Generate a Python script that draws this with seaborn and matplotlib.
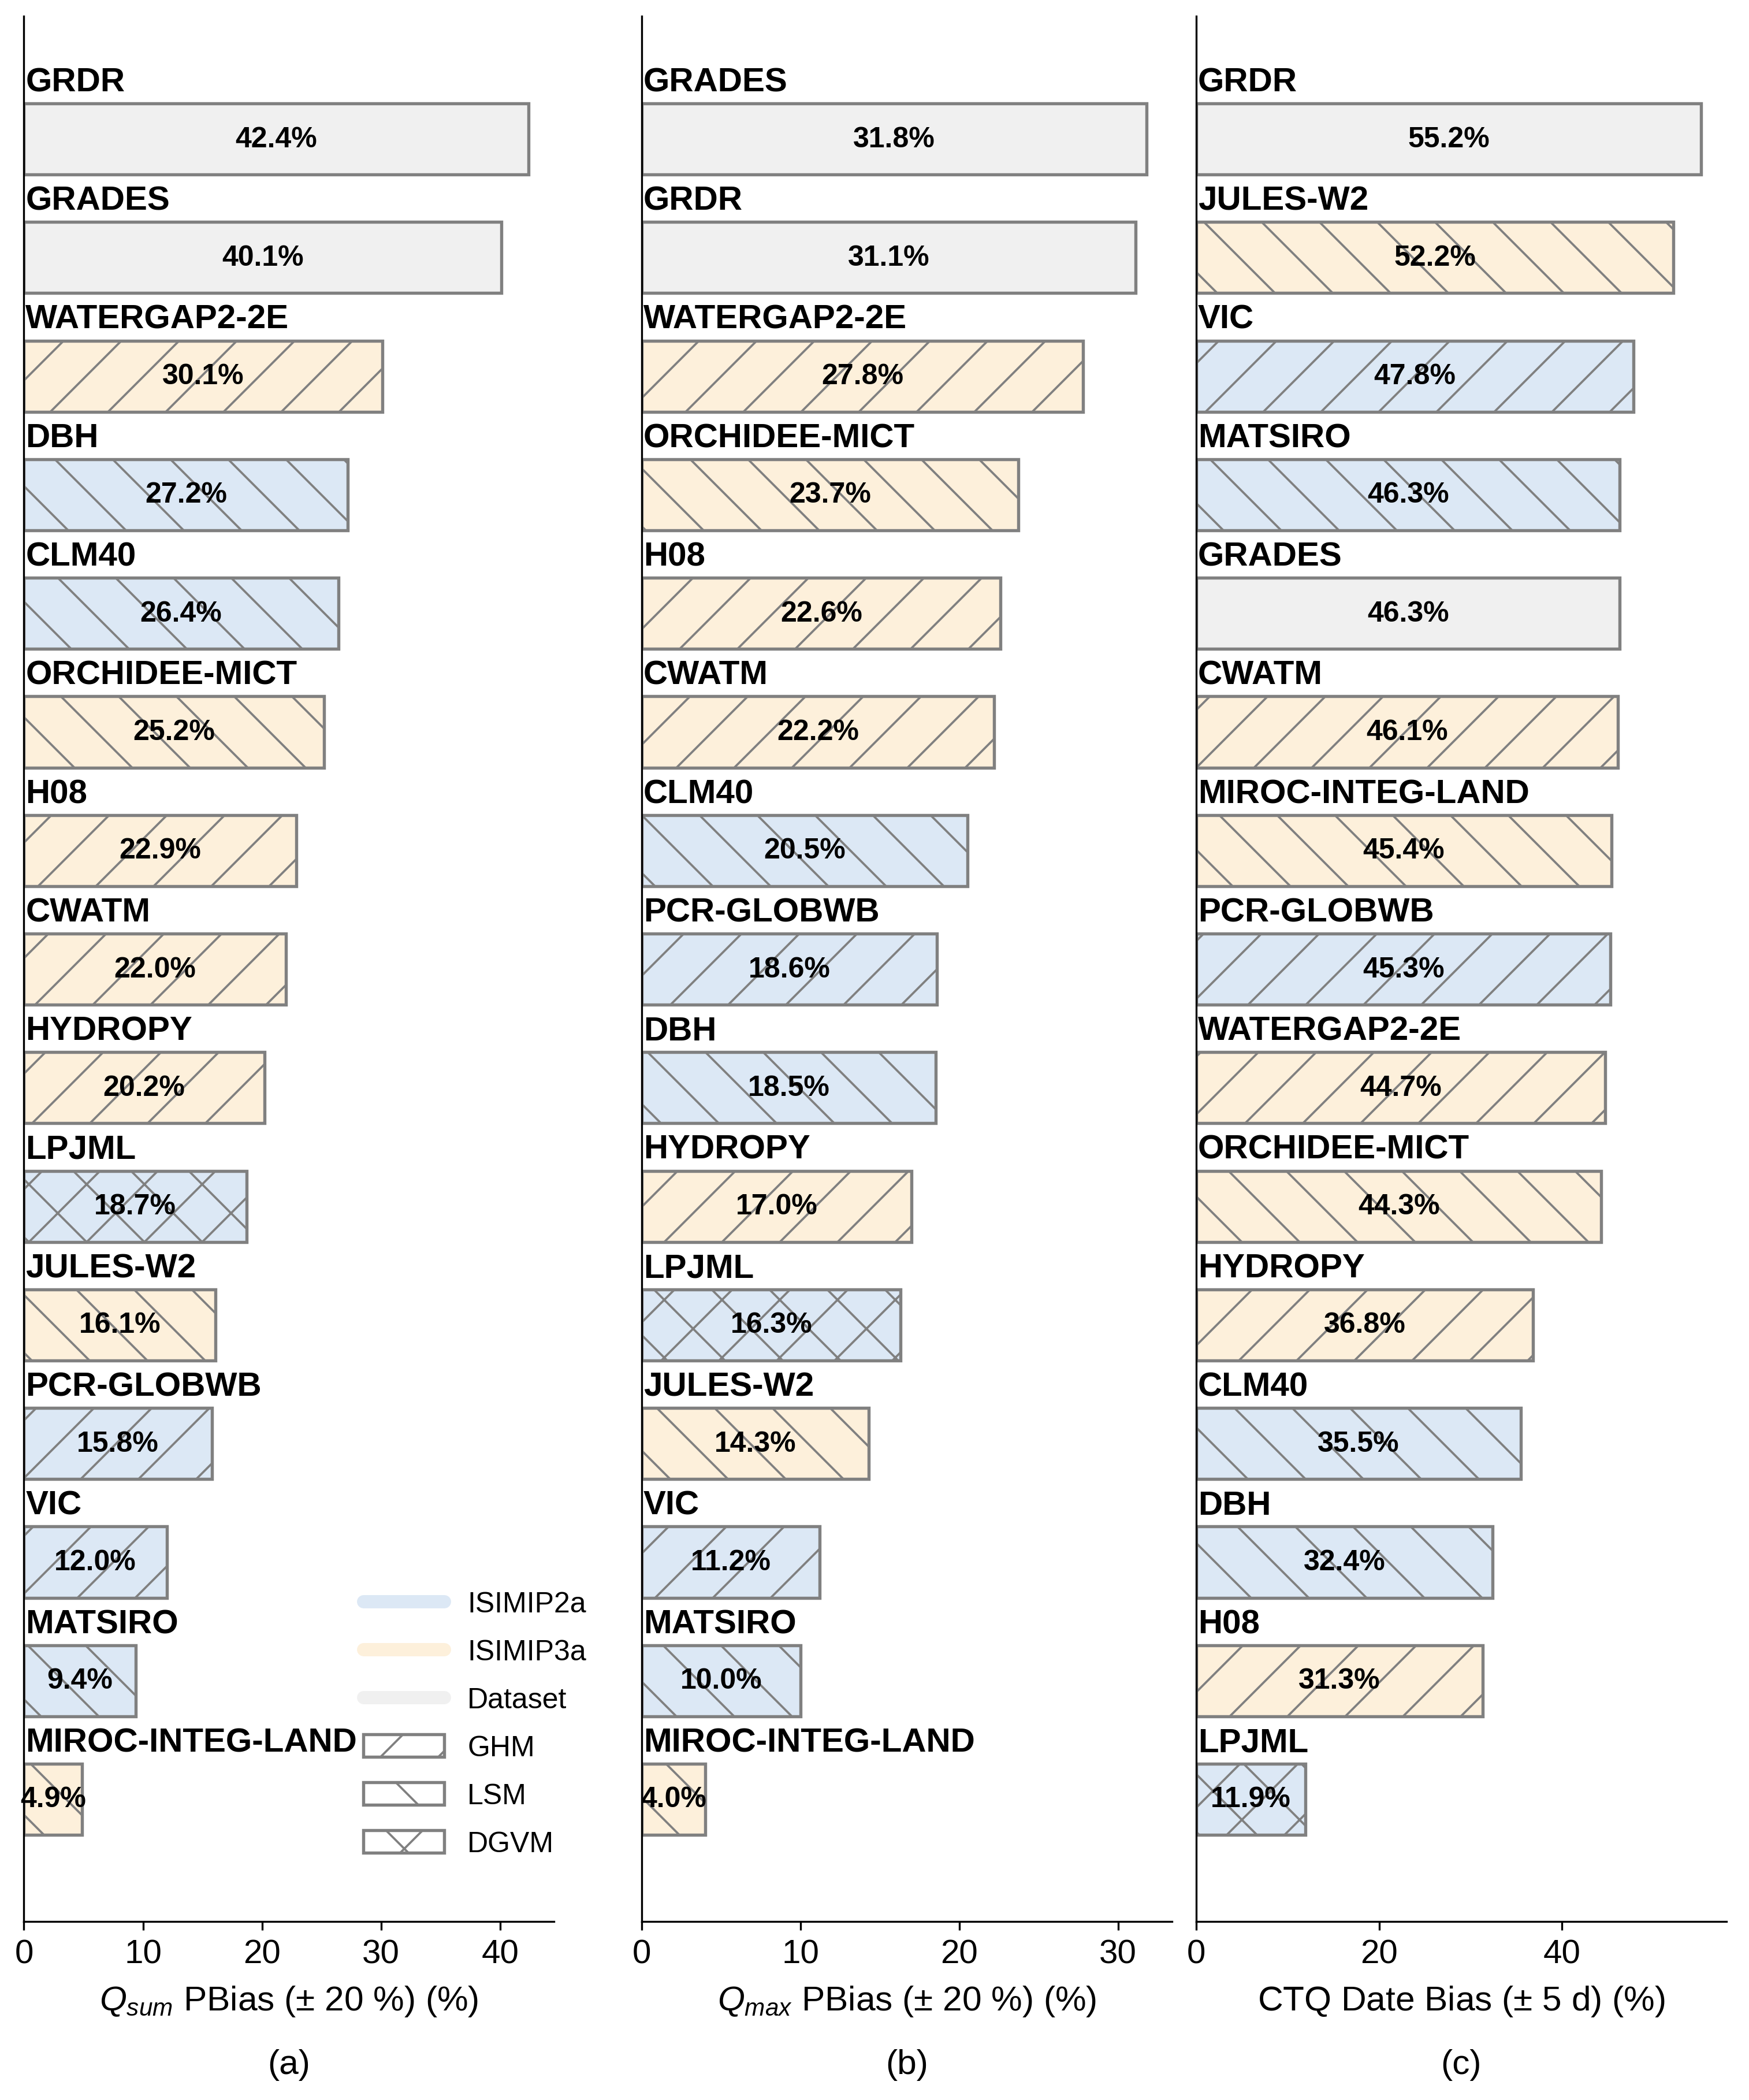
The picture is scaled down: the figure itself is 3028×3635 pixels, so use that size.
import pandas as pd
import matplotlib.pyplot as plt
import matplotlib.transforms as mtransforms
from matplotlib.patches import Patch
from matplotlib.lines import Line2D
from matplotlib.ticker import MultipleLocator
import seaborn as sns

# Model metadata
models = ['GRDR', 'GRADES', 'WATERGAP2-2E', 'DBH', 'CLM40', 'ORCHIDEE-MICT', 'H08', 'CWATM',
          'HYDROPY', 'LPJML', 'JULES-W2', 'PCR-GLOBWB', 'VIC', 'MATSIRO', 'MIROC-INTEG-LAND']
rounds = ['Dataset', 'Dataset', 'ISIMIP3a', 'ISIMIP2a', 'ISIMIP2a', 'ISIMIP3a', 'ISIMIP3a', 'ISIMIP3a',
          'ISIMIP3a', 'ISIMIP2a', 'ISIMIP3a', 'ISIMIP2a', 'ISIMIP2a', 'ISIMIP2a', 'ISIMIP3a']
types = ['Dataset', 'Dataset', 'GHM', 'LSM', 'LSM', 'LSM', 'GHM', 'GHM',
         'GHM', 'DGVM', 'LSM', 'GHM', 'GHM', 'LSM', 'LSM']

# Panel (a): Qsum PBias
order_a = ['GRDR', 'GRADES', 'WATERGAP2-2E', 'DBH', 'CLM40', 'ORCHIDEE-MICT', 'H08', 'CWATM',
           'HYDROPY', 'LPJML', 'JULES-W2', 'PCR-GLOBWB', 'VIC', 'MATSIRO', 'MIROC-INTEG-LAND']
values_a = [42.4, 40.1, 30.1, 27.2, 26.4, 25.2, 22.9, 22.0, 20.2, 18.7, 16.1, 15.8, 12.0, 9.4, 4.9]

# Panel (b): Qmax PBias
order_b = ['GRADES', 'GRDR', 'WATERGAP2-2E', 'ORCHIDEE-MICT', 'H08', 'CWATM', 'CLM40', 'PCR-GLOBWB',
           'DBH', 'HYDROPY', 'LPJML', 'JULES-W2', 'VIC', 'MATSIRO', 'MIROC-INTEG-LAND']
values_b = [31.8, 31.1, 27.8, 23.7, 22.6, 22.2, 20.5, 18.6, 18.5, 17.0, 16.3, 14.3, 11.2, 10.0, 4.0]

# Panel (c): CTQ date bias
order_c = ['GRDR', 'JULES-W2', 'VIC', 'MATSIRO', 'GRADES', 'CWATM', 'MIROC-INTEG-LAND', 'PCR-GLOBWB',
           'WATERGAP2-2E', 'ORCHIDEE-MICT', 'HYDROPY', 'CLM40', 'DBH', 'H08', 'LPJML']
values_c = [55.2, 52.2, 47.8, 46.3, 46.3, 46.1, 45.4, 45.3, 44.7, 44.3, 36.8, 35.5, 32.4, 31.3, 11.9]

xlabels = [r'$Q_{sum}$ PBias ($\pm$ 20 %) (%)',
           r'$Q_{max}$ PBias ($\pm$ 20 %) (%)',
           r'CTQ Date Bias ($\pm$ 5 d) (%)']
panel_tags = ['(a)', '(b)', '(c)']

round_colors = {'ISIMIP2a': '#dce8f5', 'ISIMIP3a': '#fdf0db', 'Dataset': '#f0f0f0'}
type_hatch = {'GHM': '/', 'LSM': '\\', 'DGVM': 'x', 'Dataset': ''}
edge = '#808080'

sns.set_style('ticks')
plt.rcParams['font.family'] = ['Liberation Sans', 'DejaVu Sans']
plt.rcParams['mathtext.fontset'] = 'custom'
plt.rcParams['mathtext.rm'] = 'Liberation Sans'
plt.rcParams['mathtext.it'] = 'Liberation Sans:italic'
plt.rcParams['hatch.linewidth'] = 0.9
for key in ['text.color', 'axes.labelcolor', 'xtick.color', 'ytick.color', 'axes.edgecolor']:
    plt.rcParams[key] = 'black'

round_of = dict(zip(models, rounds))
type_of = dict(zip(models, types))

fig = plt.figure(figsize=(3028 / 300, 3636 / 300), dpi=300)
lefts = [0.0137, 0.367, 0.684]
width, bottom, height = 0.303, 0.085, 0.907

panels = [(order_a, values_a, 10), (order_b, values_b, 10), (order_c, values_c, 20)]
axes = []
for k, (order, vals, step) in enumerate(panels):
    ax = fig.add_axes([lefts[k], bottom, width, height])
    axes.append(ax)
    df = pd.DataFrame({'model': order, 'value': vals})
    pal = {m: round_colors[round_of[m]] for m in order}
    sns.barplot(data=df, x='value', y='model', hue='model', palette=pal, order=order,
                hue_order=order, width=0.6, edgecolor=edge, linewidth=1.3, saturation=1,
                legend=False, orient='h', ax=ax)
    for p in ax.patches:
        idx = int(round(p.get_y() + p.get_height() / 2))
        p.set_hatch(type_hatch[type_of[order[idx]]])

    trans = mtransforms.blended_transform_factory(ax.transAxes, ax.transData)
    for i, (m, v) in enumerate(zip(order, vals)):
        ax.text(0.003, i - 0.405, m, transform=trans, ha='left', va='baseline',
                fontsize=14, fontweight='bold')
        ax.text(v / 2, i, f'{v:.1f}%', ha='center', va='center',
                fontsize=12, fontweight='bold')

    ax.set_xlim(0, max(vals) * 1.05)
    ax.set_ylim(15.03, -1.035)
    ax.xaxis.set_major_locator(MultipleLocator(step))
    ax.set_yticks([])
    ax.set_ylabel('')
    ax.set_xlabel(xlabels[k], fontsize=14.5, labelpad=6)
    ax.tick_params(axis='x', labelsize=14)
    sns.despine(ax=ax)
    fig.text(lefts[k] + width / 2, 0.017, panel_tags[k], ha='center', va='center', fontsize=14.5)

# Legend in panel (a)
handles = [Line2D([0], [0], color=round_colors[r], lw=5.5) for r in ['ISIMIP2a', 'ISIMIP3a', 'Dataset']]
handles += [Patch(facecolor='white', edgecolor=edge, hatch=type_hatch[t], linewidth=1.3)
            for t in ['GHM', 'LSM', 'DGVM']]
labels = ['ISIMIP2a', 'ISIMIP3a', 'Dataset', 'GHM', 'LSM', 'DGVM']
axes[0].legend(handles, labels, loc='lower right', bbox_to_anchor=(1.11, 0.02), frameon=False,
               fontsize=12, handlelength=2.8, handleheight=0.8, labelspacing=0.73)

plt.savefig('out.png', dpi=300)
